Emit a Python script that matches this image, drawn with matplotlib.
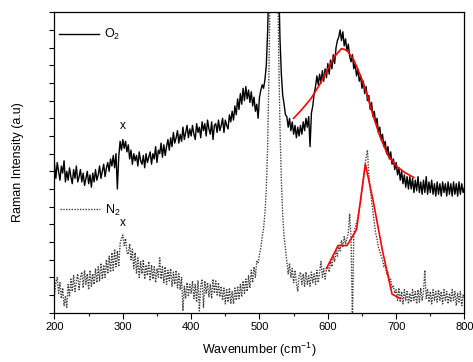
import numpy as np
import matplotlib
matplotlib.use("Agg")
import matplotlib.pyplot as plt
from matplotlib.ticker import MultipleLocator

plt.rcParams["font.family"] = ["Liberation Sans", "DejaVu Sans"]
plt.rcParams["mathtext.default"] = "regular"

# wavenumber grid, cm^-1
wavenumber = np.arange(200, 801, 2)

# O2 annealed spectrum (arb. units, offset), one row = 20 cm^-1
o2_intensity = [
    8.4, 7.6, 8.5, 8.0, 7.5, 8.3, 7.9, 8.6, 7.4, 8.0,
    7.5, 8.2, 7.7, 7.3, 8.1, 7.6, 8.3, 7.4, 7.7, 8.1,
    7.4, 7.9, 7.2, 7.6, 8.0, 7.3, 7.8, 7.1, 7.9, 7.4,
    8.1, 7.5, 7.8, 8.3, 7.6, 8.0, 8.4, 7.7, 8.2, 8.5,
    8.0, 8.7, 8.3, 8.9, 8.2, 9.0, 7.0, 8.8, 9.7, 9.2,
    9.8, 9.3, 9.7, 9.1, 9.5, 8.7, 9.2, 8.4, 9.0, 8.6,
    8.9, 8.3, 9.1, 8.6, 8.4, 8.9, 8.2, 9.0, 8.5, 8.8,
    9.1, 8.4, 9.0, 8.7, 9.4, 8.5, 9.2, 9.0, 9.6, 8.8,
    9.5, 8.9, 9.4, 9.8, 9.2, 9.9, 9.4, 10.2, 9.6, 9.9,
    10.3, 9.6, 10.1, 9.7, 10.5, 9.8, 10.2, 10.6, 9.9, 10.4,
    10.0, 10.6, 10.1, 9.8, 10.7, 10.2, 10.5, 9.9, 10.8, 10.3,
    10.7, 10.0, 10.9, 10.4, 10.1, 10.8, 9.8, 10.6, 10.7, 10.2,
    10.9, 10.3, 10.6, 11.0, 10.2, 10.9, 10.6, 10.4, 11.2, 10.8,
    11.4, 10.9, 11.7, 11.2, 12.1, 11.5, 12.4, 11.8, 12.7, 12.0,
    12.8, 12.1, 12.6, 11.9, 12.5, 11.7, 12.2, 11.4, 11.8, 11.0,
    12.2, 12.6, 12.9, 12.7, 13.2, 14.0, 16.0, 19.5, 24.0, 28.0,
    30.0, 30.0, 28.0, 24.0, 19.0, 15.5, 13.5, 12.3, 11.8, 11.2,
    11.1, 10.5, 11.0, 10.3, 10.8, 10.1, 10.6, 9.9, 10.5, 10.0,
    10.6, 10.1, 10.8, 10.3, 11.0, 10.5, 11.1, 9.4, 11.3, 11.7,
    12.4, 12.8, 13.4, 12.9, 13.5, 13.0, 13.7, 13.1, 13.8, 13.3,
    14.1, 13.5, 14.3, 13.8, 14.6, 14.1, 15.0, 15.4, 15.6, 16.0,
    15.4, 15.9, 15.1, 15.5, 14.8, 15.2, 14.5, 14.2, 14.6, 13.8,
    14.1, 13.4, 13.8, 13.1, 13.4, 12.7, 13.1, 12.4, 12.8, 12.0,
    12.3, 11.5, 11.9, 11.1, 11.4, 10.7, 11.0, 10.2, 10.5, 9.8,
    10.1, 9.4, 9.7, 9.0, 9.4, 8.7, 9.1, 8.4, 8.7, 8.1,
    8.5, 7.8, 8.2, 7.5, 8.0, 7.3, 7.8, 7.1, 7.7, 7.0,
    7.7, 7.0, 7.6, 6.8, 7.5, 6.9, 7.7, 6.8, 7.4, 6.7,
    7.5, 6.8, 7.7, 6.7, 7.4, 6.8, 7.5, 6.7, 7.3, 6.6,
    7.4, 6.7, 7.3, 6.6, 7.4, 6.8, 7.3, 6.6, 7.4, 6.7,
    7.3, 6.6, 7.4, 6.7, 7.3, 6.6, 7.4, 6.7, 7.3, 6.8,
    7.1,
]

# N2 annealed spectrum (arb. units), one row = 20 cm^-1
n2_intensity = [
    1.0, 1.7, 2.0, 1.1, 1.7, 0.8, 1.4, 0.4, 0.9, 0.3,
    1.6, 0.9, 1.9, 1.2, 2.1, 1.2, 1.8, 2.2, 1.3, 2.0,
    2.3, 1.4, 2.4, 1.6, 2.2, 1.3, 2.4, 1.5, 2.2, 1.6,
    2.5, 1.7, 2.6, 1.8, 2.8, 1.9, 2.7, 2.0, 3.0, 2.2,
    3.2, 2.3, 3.4, 2.4, 3.6, 2.6, 3.5, 2.6, 3.9, 4.2,
    4.4, 3.8, 4.2, 3.4, 3.3, 3.9, 3.0, 3.6, 2.5, 3.4,
    2.2, 3.1, 2.0, 2.9, 2.2, 3.0, 1.9, 2.7, 2.1, 2.9,
    1.8, 2.7, 1.9, 2.6, 1.7, 2.5, 2.0, 3.1, 1.9, 2.6,
    1.7, 2.6, 1.6, 2.4, 1.8, 2.5, 1.5, 2.3, 1.6, 2.4,
    1.4, 2.2, 1.3, 2.0, 0.1, 1.5, 0.8, 1.7, 0.9, 1.6,
    1.1, 1.8, 0.8, 1.6, 0.6, 1.8, 0.1, 1.5, 1.9, 0.3,
    1.8, 1.1, 1.7, 0.9, 1.6, 0.8, 1.9, 1.1, 1.8, 1.0,
    1.7, 0.9, 1.5, 0.7, 1.4, 0.5, 1.3, 0.6, 1.4, 0.5,
    1.2, 0.5, 1.4, 0.7, 1.5, 0.8, 1.6, 0.9, 1.8, 1.1,
    1.9, 1.2, 2.1, 1.4, 2.4, 1.7, 2.6, 2.0, 2.9, 2.8,
    3.3, 3.7, 4.3, 4.8, 5.6, 7.0, 9.5, 14.0, 20.0, 26.0,
    30.0, 30.0, 27.0, 21.0, 15.0, 10.5, 7.5, 5.5, 4.3, 3.6,
    2.9, 2.2, 2.8, 2.0, 2.5, 1.7, 2.4, 1.7, 1.2, 2.1,
    2.3, 1.6, 2.2, 1.5, 2.3, 1.6, 2.1, 1.5, 2.3, 1.7,
    2.2, 1.6, 2.4, 1.7, 2.3, 2.9, 2.0, 2.5, 1.9, 2.5,
    2.6, 2.3, 2.9, 2.6, 3.2, 2.9, 3.5, 3.2, 3.8, 3.5,
    4.1, 3.7, 4.3, 3.9, 4.2, 4.5, 5.6, 4.2, -0.5, 4.5,
    4.8, 5.1, 5.4, 5.9, 6.3, 7.0, 7.6, 8.3, 8.8, 9.2,
    7.8, 7.0, 6.4, 5.7, 5.1, 4.5, 4.2, 3.7, 3.5, 3.2,
    3.0, 2.6, 2.7, 2.2, 2.3, 1.8, 1.9, 1.4, 1.5, 1.1,
    1.3, 0.7, 1.4, 0.6, 1.2, 0.5, 1.3, 0.7, 1.2, 0.5,
    1.1, 0.6, 1.3, 0.7, 1.2, 0.5, 1.3, 0.6, 1.4, 0.7,
    1.2, 2.4, 0.8, 1.3, 0.6, 1.2, 0.5, 1.3, 0.7, 1.2,
    0.6, 1.3, 0.7, 1.2, 0.5, 1.3, 0.7, 1.2, 0.5, 1.1,
    0.6, 1.3, 0.7, 1.2, 0.4, 1.1, 0.6, 1.2, 0.4, 1.0,
    0.8,
]

# fitted curves (red)
o2_fit_x = [550, 562, 575, 588, 600, 610, 620, 628, 638, 648, 657, 666, 676, 688, 700, 712, 726]
o2_fit_y = [11.0, 11.5, 12.1, 12.9, 13.8, 14.5, 14.95, 14.85, 14.3, 13.4, 12.4, 11.2, 10.0, 8.9, 8.3, 7.95, 7.65]
n2_fit_x = [598, 615, 628, 642, 655, 667, 680, 694, 706]
n2_fit_y = [2.5, 3.8, 3.8, 4.7, 8.4, 6.2, 3.5, 1.05, 0.8]

# "x" marks over the 300 cm-1 band
mark_x = [300, 300]
mark_y = [10.25, 4.75]

fig = plt.figure(figsize=(4.73, 3.62), dpi=100)
ax = fig.add_axes([0.1152, 0.1362, 0.8668, 0.8298])

o2_line, = ax.plot(wavenumber, o2_intensity, color="black", lw=1.0, label="O$_2$")
n2_line, = ax.plot(wavenumber, n2_intensity, color="0.25", lw=1.0,
                   linestyle=(0, (1, 1)), label="N$_2$")
ax.plot(o2_fit_x, o2_fit_y, color="red", lw=1.2)
ax.plot(n2_fit_x, n2_fit_y, color="red", lw=1.2)

for mx, my in zip(mark_x, mark_y):
    ax.text(mx, my, "x", ha="center", va="bottom", fontsize=8.5)

ax.set_xlim(200, 800)
ax.set_ylim(0, 17)
ax.xaxis.set_major_locator(MultipleLocator(100))
ax.xaxis.set_minor_locator(MultipleLocator(50))
ax.set_yticks(range(0, 18))
ax.set_yticklabels([])
ax.tick_params(axis="x", which="major", direction="out", length=4, width=0.8,
               labelsize=8, pad=3)
ax.tick_params(axis="x", which="minor", direction="out", length=2.5, width=0.8)
ax.tick_params(axis="y", direction="out", length=3.5, width=0.8)
for sp in ax.spines.values():
    sp.set_linewidth(0.9)

ax.set_xlabel("Wavenumber (cm$^{-1}$)", fontsize=9, labelpad=6)
ax.set_ylabel("Raman Intensity (a.u)", fontsize=9)
ax.yaxis.set_label_coords(-0.075, 0.5)

leg1 = ax.legend(handles=[o2_line], loc="center left", bbox_to_anchor=(0.011, 0.925),
                 frameon=False, fontsize=9, handlelength=3.2, handletextpad=0.4,
                 borderpad=0, borderaxespad=0)
ax.add_artist(leg1)
ax.legend(handles=[n2_line], loc="center left", bbox_to_anchor=(0.013, 0.342),
          frameon=False, fontsize=9, handlelength=3.2, handletextpad=0.4,
          borderpad=0, borderaxespad=0)

fig.savefig("out.png", dpi=100)
